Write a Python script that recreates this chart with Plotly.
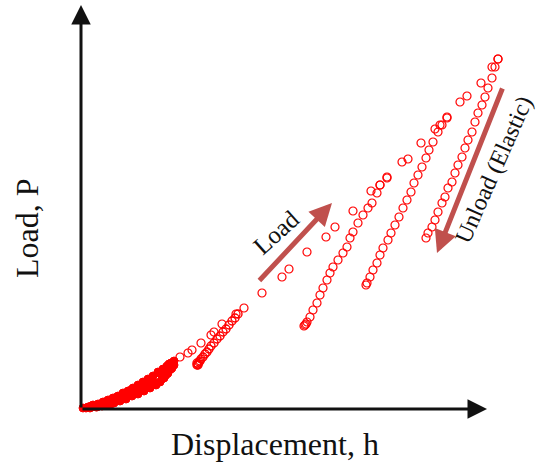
import plotly.graph_objects as go

# Displacement h and load P (arbitrary units)
dense_h = [2, 7, 12, 17, 22, 27, 32, 37, 42, 47, 52, 57, 62, 67, 72, 77, 82, 86, 90, 93,
           5, 12, 19, 26, 33, 40, 47, 54, 61, 68, 75, 81, 86, 90, 93,
           9, 15, 21, 27, 33, 39, 45, 51, 57, 63, 69, 75, 79, 83, 87, 91,
           10, 24, 36, 50, 64, 78, 88, 16, 30, 44, 58, 72, 84, 65, 71]
dense_P = [1, 2, 4, 5, 7, 9, 11, 13, 16, 18, 21, 24, 27, 30, 33, 37, 40, 43, 46, 48,
           1, 3, 4, 6, 8, 10, 13, 16, 19, 22, 26, 30, 35, 40, 44,
           1, 2, 3, 4, 6, 8, 10, 13, 15, 18, 21, 24, 27, 31, 36, 41,
           3, 7, 12, 19, 27, 36, 45, 2, 5, 11, 17, 24, 33, 24, 29]

env_h = [99, 107, 111, 120, 130, 133, 141, 155, 163, 181, 201, 208, 226, 245, 254, 272,
         290, 299, 306, 321, 327, 340, 354, 359, 366, 379, 386, 400, 411, 417]
env_P = [52, 56, 59, 66, 74, 77, 85, 95, 101, 116, 132, 140, 157, 172, 182, 198,
         218, 224, 231, 247, 250, 266, 280, 284, 291, 307, 313, 326, 342, 350]

un1_h = [157, 154, 151, 148, 145, 142, 139, 136, 133, 130, 128, 126, 124, 122, 120, 119, 118, 117, 116, 116, 117]
un1_P = [95, 91, 88, 84, 80, 77, 73, 70, 66, 63, 60, 57, 55, 52, 50, 48, 47, 45, 44, 46, 44]

un2_h = [306, 299, 296, 291, 287, 282, 277, 272, 269, 266, 262, 257, 252, 249, 246, 242,
         239, 236, 232, 229, 226, 225, 224, 223]
un2_P = [232, 224, 216, 206, 201, 194, 186, 177, 171, 162, 156, 149, 142, 136, 129, 121,
         114, 106, 99, 92, 87, 85, 84, 83]

un3_h = [366, 361, 357, 352, 348, 345, 341, 337, 333, 330, 326, 322, 318, 314, 310, 307,
         302, 299, 296, 292, 289, 286, 285]
un3_P = [292, 284, 277, 267, 259, 251, 242, 234, 226, 217, 209, 201, 192, 184, 176, 169,
         161, 154, 146, 139, 132, 126, 124]

un4_h = [417, 414, 411, 407, 404, 401, 397, 394, 391, 387, 384, 381, 377, 374, 371, 367,
         364, 361, 357, 354, 351, 347, 345]
un4_P = [350, 342, 331, 321, 312, 304, 296, 287, 277, 269, 261, 252, 244, 236, 227, 221,
         212, 206, 197, 189, 182, 176, 171]

RED = "#ff0000"
fig = go.Figure()

def add(h, P, lw=1.2, symbol="circle-open"):
    fig.add_trace(go.Scatter(x=h, y=P, mode="markers",
                             marker=dict(symbol=symbol, size=8, color=RED,
                                         line=dict(width=lw, color=RED)),
                             showlegend=False, hoverinfo="skip"))

add(dense_h, dense_P, lw=1, symbol="circle")
add(env_h, env_P)
add(un1_h, un1_P, lw=1.4)
add(un2_h, un2_P)
add(un3_h, un3_P)
add(un4_h, un4_P)

serif = "Liberation Serif, Times New Roman, serif"
AX = "#111111"
ARR = "#c0504d"
annotations = [
    # axes with arrow heads
    dict(x=0, y=404, ax=0, ay=0, xref="x", yref="y", axref="x", ayref="y",
         text="", showarrow=True, arrowhead=2, arrowsize=1.3, arrowwidth=3, arrowcolor=AX),
    dict(x=406, y=0, ax=0, ay=0, xref="x", yref="y", axref="x", ayref="y",
         text="", showarrow=True, arrowhead=2, arrowsize=1.3, arrowwidth=3, arrowcolor=AX),
    # load / unload arrows
    dict(x=251, y=206, ax=177, ay=127, xref="x", yref="y", axref="x", ayref="y",
         text="", showarrow=True, arrowhead=2, arrowsize=0.9, arrowwidth=5, arrowcolor=ARR),
    dict(x=356, y=156, ax=422, ay=322, xref="x", yref="y", axref="x", ayref="y",
         text="", showarrow=True, arrowhead=2, arrowsize=0.9, arrowwidth=5, arrowcolor=ARR),
    # texts
    dict(x=-54, y=181, xref="x", yref="y", text="Load, P", showarrow=False,
         textangle=-90, font=dict(family=serif, size=32, color=AX)),
    dict(x=194, y=-35, xref="x", yref="y", text="Displacement, h", showarrow=False,
         font=dict(family=serif, size=32, color=AX)),
    dict(x=195, y=177, xref="x", yref="y", text="Load", showarrow=False,
         textangle=-42, font=dict(family=serif, size=25, color=AX)),
    dict(x=412.5, y=239, xref="x", yref="y", text="Unload (Elastic)", showarrow=False,
         textangle=-66, font=dict(family=serif, size=24, color=AX)),
]

fig.update_layout(
    width=537, height=470,
    margin=dict(l=0, r=0, t=0, b=0),
    paper_bgcolor="white", plot_bgcolor="white",
    xaxis=dict(range=[-81, 456], visible=False, fixedrange=True),
    yaxis=dict(range=[-61, 409], visible=False, fixedrange=True),
    annotations=annotations,
)

fig.write_html("out.html")
